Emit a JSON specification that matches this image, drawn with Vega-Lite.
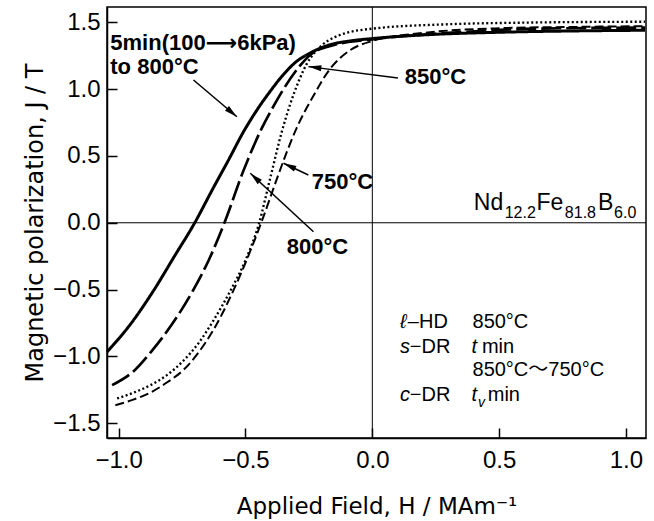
{
  "$schema": "https://vega.github.io/schema/vega-lite/v6.json",
  "width": 539,
  "height": 431,
  "autosize": "none",
  "padding": {"left": 107, "top": 7, "right": 8, "bottom": 83},
  "background": "white",
  "config": {
    "view": {"stroke": "black", "strokeWidth": 1.5},
    "axis": {
      "grid": false,
      "domainColor": "black",
      "domainWidth": 1.5,
      "tickColor": "black",
      "tickWidth": 1.5,
      "tickSize": -10,
      "labelColor": "black",
      "labelFont": "Liberation Sans",
      "labelFontSize": 24,
      "labelFlush": false,
      "labelOverlap": false,
      "titleColor": "black",
      "titleFont": "DejaVu Sans",
      "titleFontSize": 23,
      "titleFontWeight": "normal"
    }
  },
  "datasets": {
    "curves": [
      {"curve": "5min", "H": -1.046, "J": -0.966},
      {"curve": "5min", "H": -0.95, "J": -0.75},
      {"curve": "5min", "H": -0.86, "J": -0.5},
      {"curve": "5min", "H": -0.78, "J": -0.25},
      {"curve": "5min", "H": -0.7, "J": 0},
      {"curve": "5min", "H": -0.63, "J": 0.25},
      {"curve": "5min", "H": -0.567, "J": 0.469},
      {"curve": "5min", "H": -0.508, "J": 0.68},
      {"curve": "5min", "H": -0.455, "J": 0.843},
      {"curve": "5min", "H": -0.4, "J": 0.99},
      {"curve": "5min", "H": -0.35, "J": 1.11},
      {"curve": "5min", "H": -0.3, "J": 1.205},
      {"curve": "5min", "H": -0.245, "J": 1.27},
      {"curve": "5min", "H": -0.173, "J": 1.328},
      {"curve": "5min", "H": -0.08, "J": 1.362},
      {"curve": "5min", "H": 0, "J": 1.378},
      {"curve": "5min", "H": 0.2, "J": 1.405},
      {"curve": "5min", "H": 0.5, "J": 1.425},
      {"curve": "5min", "H": 0.8, "J": 1.435},
      {"curve": "5min", "H": 1.075, "J": 1.44},
      {"curve": "800", "H": -1.026, "J": -1.215},
      {"curve": "800", "H": -0.941, "J": -1.11},
      {"curve": "800", "H": -0.87, "J": -0.96},
      {"curve": "800", "H": -0.79, "J": -0.76},
      {"curve": "800", "H": -0.705, "J": -0.5},
      {"curve": "800", "H": -0.645, "J": -0.28},
      {"curve": "800", "H": -0.583, "J": 0},
      {"curve": "800", "H": -0.508, "J": 0.39},
      {"curve": "800", "H": -0.435, "J": 0.71},
      {"curve": "800", "H": -0.39, "J": 0.87},
      {"curve": "800", "H": -0.35, "J": 1.0},
      {"curve": "800", "H": -0.285, "J": 1.175},
      {"curve": "800", "H": -0.245, "J": 1.255},
      {"curve": "800", "H": -0.15, "J": 1.33},
      {"curve": "800", "H": 0, "J": 1.372},
      {"curve": "800", "H": 0.3, "J": 1.42},
      {"curve": "800", "H": 0.6, "J": 1.45},
      {"curve": "800", "H": 1.075, "J": 1.46},
      {"curve": "850", "H": -1.006, "J": -1.314},
      {"curve": "850", "H": -0.94, "J": -1.27},
      {"curve": "850", "H": -0.875, "J": -1.215},
      {"curve": "850", "H": -0.81, "J": -1.14},
      {"curve": "850", "H": -0.744, "J": -1.03},
      {"curve": "850", "H": -0.685, "J": -0.9},
      {"curve": "850", "H": -0.626, "J": -0.73},
      {"curve": "850", "H": -0.56, "J": -0.51},
      {"curve": "850", "H": -0.5, "J": -0.28},
      {"curve": "850", "H": -0.449, "J": -0.02},
      {"curve": "850", "H": -0.403, "J": 0.33},
      {"curve": "850", "H": -0.357, "J": 0.68},
      {"curve": "850", "H": -0.325, "J": 0.88},
      {"curve": "850", "H": -0.29, "J": 1.06},
      {"curve": "850", "H": -0.258, "J": 1.19},
      {"curve": "850", "H": -0.219, "J": 1.29},
      {"curve": "850", "H": -0.127, "J": 1.405},
      {"curve": "850", "H": 0, "J": 1.452},
      {"curve": "850", "H": 0.3, "J": 1.485},
      {"curve": "850", "H": 0.6, "J": 1.497},
      {"curve": "850", "H": 1.075, "J": 1.504},
      {"curve": "750", "H": -1.013, "J": -1.365},
      {"curve": "750", "H": -0.945, "J": -1.325},
      {"curve": "750", "H": -0.875, "J": -1.27},
      {"curve": "750", "H": -0.81, "J": -1.195},
      {"curve": "750", "H": -0.744, "J": -1.1},
      {"curve": "750", "H": -0.685, "J": -0.97},
      {"curve": "750", "H": -0.626, "J": -0.8},
      {"curve": "750", "H": -0.547, "J": -0.504},
      {"curve": "750", "H": -0.438, "J": 0},
      {"curve": "750", "H": -0.376, "J": 0.33},
      {"curve": "750", "H": -0.337, "J": 0.53},
      {"curve": "750", "H": -0.298, "J": 0.71},
      {"curve": "750", "H": -0.232, "J": 0.95},
      {"curve": "750", "H": -0.167, "J": 1.15},
      {"curve": "750", "H": -0.088, "J": 1.29},
      {"curve": "750", "H": 0, "J": 1.36},
      {"curve": "750", "H": 0.2, "J": 1.42},
      {"curve": "750", "H": 0.5, "J": 1.455},
      {"curve": "750", "H": 0.8, "J": 1.465},
      {"curve": "750", "H": 1.075, "J": 1.47}
    ],
    "arrows": [
      {"H": -0.705, "J": 1.068, "H2": -0.534, "J2": 0.793, "ang": 130},
      {"H": 0.101, "J": 1.083, "H2": -0.252, "J2": 1.168, "ang": 277},
      {"H": -0.252, "J": 0.357, "H2": -0.35, "J2": 0.445, "ang": 295},
      {"H": -0.232, "J": -0.067, "H2": -0.481, "J2": 0.37, "ang": 313}
    ],
    "boldLabels": [
      {"t": "5min(100⟶6kPa)", "H": -1.033, "J": 1.343},
      {"t": "to 800°C", "H": -1.033, "J": 1.168},
      {"t": "850°C", "H": 0.128, "J": 1.093},
      {"t": "750°C", "H": -0.239, "J": 0.307},
      {"t": "800°C", "H": -0.337, "J": -0.18}
    ],
    "formulaMain": [
      {"t": "Nd", "H": 0.4, "J": 0.095},
      {"t": "Fe", "H": 0.647, "J": 0.095},
      {"t": "B", "H": 0.89, "J": 0.095}
    ],
    "formulaSub": [
      {"t": "12.2", "H": 0.522, "J": 0.033},
      {"t": "81.8", "H": 0.759, "J": 0.033},
      {"t": "6.0", "H": 0.953, "J": 0.033}
    ],
    "noteRegular": [
      {"t": "–HD", "H": 0.14, "J": -0.741},
      {"t": "850°C", "H": 0.395, "J": -0.741},
      {"t": "−DR", "H": 0.148, "J": -0.928},
      {"t": "min", "H": 0.432, "J": -0.928},
      {"t": "850°C〜750°C", "H": 0.395, "J": -1.103},
      {"t": "−DR", "H": 0.148, "J": -1.29},
      {"t": "min", "H": 0.455, "J": -1.29}
    ],
    "noteItalic": [
      {"t": "ℓ", "H": 0.109, "J": -0.741},
      {"t": "s", "H": 0.109, "J": -0.928},
      {"t": "t", "H": 0.391, "J": -0.928},
      {"t": "c", "H": 0.109, "J": -1.29},
      {"t": "t", "H": 0.391, "J": -1.29}
    ],
    "noteSub": [
      {"t": "v", "H": 0.417, "J": -1.346}
    ]
  },
  "layer": [
    {
      "data": {"name": "curves"},
      "mark": {"type": "line", "color": "black", "interpolate": "monotone", "strokeCap": "butt"},
      "encoding": {
        "x": {
          "field": "H", "type": "quantitative",
          "scale": {"domain": [-1.046, 1.079], "nice": false, "zero": false},
          "axis": {
            "title": "Applied Field, H / MAm⁻¹",
            "values": [-1, -0.5, 0, 0.5, 1],
            "format": ".1f",
            "labelPadding": 20,
            "titleY": 75,
            "titleBaseline": "alphabetic"
          }
        },
        "y": {
          "field": "J", "type": "quantitative",
          "scale": {"domain": [-1.61, 1.614], "nice": false, "zero": false},
          "axis": {
            "title": "Magnetic polarization, J / T",
            "values": [-1.5, -1, -0.5, 0, 0.5, 1, 1.5],
            "format": ".1f",
            "labelPadding": 17,
            "titleX": -65,
            "titleY": 215.5,
            "titleFontSize": 24,
            "titleBaseline": "alphabetic"
          }
        },
        "detail": {"field": "curve"},
        "strokeDash": {
          "field": "curve", "type": "nominal", "legend": null,
          "scale": {"domain": ["5min", "800", "850", "750"], "range": [[1, 0], [20, 5], [2, 2.5], [9, 4]]}
        },
        "strokeWidth": {
          "field": "curve", "type": "nominal", "legend": null,
          "scale": {"domain": ["5min", "800", "850", "750"], "range": [3, 2, 2, 2.2]}
        }
      }
    },
    {
      "data": {"values": [{}]},
      "mark": {"type": "rule", "color": "black", "strokeWidth": 1},
      "encoding": {
        "y": {"datum": 0, "type": "quantitative"}
      }
    },
    {
      "data": {"values": [{}]},
      "mark": {"type": "rule", "color": "black", "strokeWidth": 1},
      "encoding": {
        "x": {"datum": 0, "type": "quantitative"}
      }
    },
    {
      "data": {"name": "arrows"},
      "mark": {"type": "rule", "color": "black", "strokeWidth": 1.5},
      "encoding": {
        "x": {"field": "H", "type": "quantitative"},
        "y": {"field": "J", "type": "quantitative"},
        "x2": {"field": "H2"},
        "y2": {"field": "J2"}
      }
    },
    {
      "data": {"name": "arrows"},
      "mark": {"type": "point", "shape": "M0,0L-0.38,1.6L0.38,1.6Z", "filled": true, "color": "black", "size": 260, "opacity": 1},
      "encoding": {
        "x": {"field": "H2", "type": "quantitative"},
        "y": {"field": "J2", "type": "quantitative"},
        "angle": {"field": "ang", "type": "quantitative", "scale": null}
      }
    },
    {
      "data": {"name": "boldLabels"},
      "mark": {"type": "text", "align": "left", "baseline": "middle", "font": "Liberation Sans, DejaVu Sans", "fontSize": 22, "fontWeight": "bold", "color": "black"},
      "encoding": {
        "x": {"field": "H", "type": "quantitative"},
        "y": {"field": "J", "type": "quantitative"},
        "text": {"field": "t"}
      }
    },
    {
      "data": {"name": "formulaMain"},
      "mark": {"type": "text", "align": "left", "baseline": "alphabetic", "font": "Liberation Sans", "fontSize": 23, "color": "black"},
      "encoding": {
        "x": {"field": "H", "type": "quantitative"},
        "y": {"field": "J", "type": "quantitative"},
        "text": {"field": "t"}
      }
    },
    {
      "data": {"name": "formulaSub"},
      "mark": {"type": "text", "align": "left", "baseline": "alphabetic", "font": "Liberation Sans", "fontSize": 16, "color": "black"},
      "encoding": {
        "x": {"field": "H", "type": "quantitative"},
        "y": {"field": "J", "type": "quantitative"},
        "text": {"field": "t"}
      }
    },
    {
      "data": {"name": "noteRegular"},
      "mark": {"type": "text", "align": "left", "baseline": "middle", "font": "Liberation Sans, Noto Sans CJK JP", "fontSize": 20, "color": "black"},
      "encoding": {
        "x": {"field": "H", "type": "quantitative"},
        "y": {"field": "J", "type": "quantitative"},
        "text": {"field": "t"}
      }
    },
    {
      "data": {"name": "noteItalic"},
      "mark": {"type": "text", "align": "left", "baseline": "middle", "font": "Liberation Sans, DejaVu Sans", "fontSize": 20, "fontStyle": "italic", "color": "black"},
      "encoding": {
        "x": {"field": "H", "type": "quantitative"},
        "y": {"field": "J", "type": "quantitative"},
        "text": {"field": "t"}
      }
    },
    {
      "data": {"name": "noteSub"},
      "mark": {"type": "text", "align": "left", "baseline": "middle", "font": "Liberation Sans", "fontSize": 14, "fontStyle": "italic", "color": "black"},
      "encoding": {
        "x": {"field": "H", "type": "quantitative"},
        "y": {"field": "J", "type": "quantitative"},
        "text": {"field": "t"}
      }
    }
  ]
}
